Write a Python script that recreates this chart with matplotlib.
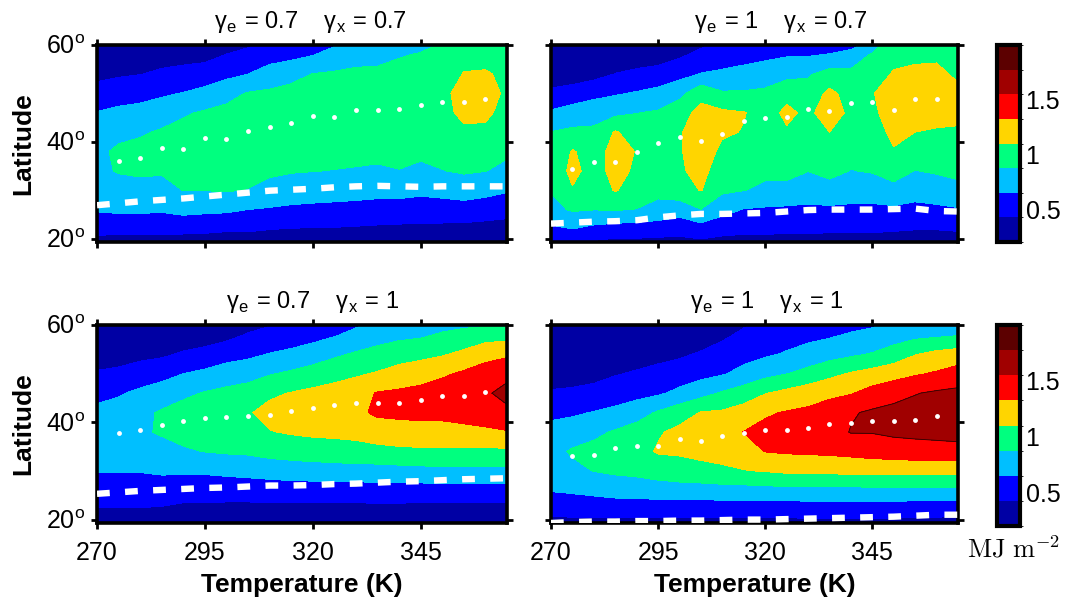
import numpy as np
import matplotlib
matplotlib.use("Agg")
import matplotlib.pyplot as plt
from matplotlib.colors import ListedColormap, BoundaryNorm

plt.rcParams['font.family'] = ['Liberation Sans', 'DejaVu Sans']
plt.rcParams['mathtext.fontset'] = 'cm'

# ---------------- data ----------------
temperature = [270, 275, 280, 285, 290, 295, 300, 305, 310, 315,
               320, 325, 330, 335, 340, 345, 350, 355, 360, 365]
latitude = [18, 22, 26, 30, 34, 38, 42, 46, 50, 54, 58, 62]

levels = [0.2, 0.425, 0.65, 0.875, 1.1, 1.325, 1.55, 1.775, 2.0]
level_colors = ['#0000A4', '#0000FF', '#00BFFF', '#00FF7F',
                '#FFD500', '#FF0000', '#A00000', '#5C0000']
cbar_ticks = [0.5, 1, 1.5]
cbar_ticklabels = ['0.5', '1', '1.5']

# each inner list = one temperature column, values at the latitudes above (MJ m^-2)
field_e07_x07 = [
    [0.27, 0.50, 0.67, 0.74, 0.83, 0.83, 0.73, 0.66, 0.51, 0.37, 0.25, 0.22],
    [0.27, 0.49, 0.69, 0.79, 0.89, 0.91, 0.82, 0.70, 0.55, 0.40, 0.27, 0.22],
    [0.27, 0.49, 0.69, 0.80, 0.91, 0.94, 0.85, 0.72, 0.58, 0.42, 0.27, 0.22],
    [0.27, 0.48, 0.68, 0.79, 0.90, 0.97, 0.90, 0.77, 0.62, 0.46, 0.34, 0.22],
    [0.27, 0.48, 0.72, 0.88, 0.94, 1.00, 0.94, 0.85, 0.66, 0.49, 0.35, 0.22],
    [0.27, 0.47, 0.70, 0.88, 0.93, 0.99, 0.99, 0.90, 0.72, 0.52, 0.36, 0.22],
    [0.27, 0.45, 0.69, 0.89, 0.94, 1.00, 1.01, 0.93, 0.81, 0.59, 0.43, 0.27],
    [0.28, 0.45, 0.65, 0.87, 0.92, 0.98, 1.03, 0.96, 0.89, 0.65, 0.49, 0.31],
    [0.29, 0.43, 0.63, 0.81, 0.91, 0.97, 1.02, 0.98, 0.91, 0.75, 0.55, 0.38],
    [0.29, 0.42, 0.61, 0.77, 0.89, 0.95, 1.02, 1.00, 0.93, 0.82, 0.58, 0.43],
    [0.30, 0.41, 0.60, 0.75, 0.88, 0.94, 0.99, 1.03, 0.96, 0.88, 0.64, 0.47],
    [0.30, 0.41, 0.59, 0.74, 0.87, 0.94, 1.00, 1.04, 0.97, 0.90, 0.73, 0.54],
    [0.31, 0.40, 0.58, 0.73, 0.86, 0.93, 0.99, 1.05, 0.99, 0.92, 0.79, 0.61],
    [0.31, 0.39, 0.56, 0.72, 0.85, 0.92, 0.99, 1.05, 0.99, 0.92, 0.81, 0.63],
    [0.31, 0.38, 0.56, 0.72, 0.87, 0.93, 0.99, 1.05, 1.01, 0.94, 0.86, 0.70],
    [0.31, 0.38, 0.54, 0.70, 0.83, 0.92, 0.99, 1.05, 1.03, 0.96, 0.89, 0.76],
    [0.31, 0.37, 0.55, 0.72, 0.87, 0.93, 0.98, 1.05, 1.06, 0.98, 0.92, 0.85],
    [0.31, 0.36, 0.56, 0.75, 0.90, 0.98, 1.07, 1.14, 1.16, 1.11, 1.03, 0.94],
    [0.31, 0.35, 0.53, 0.72, 0.88, 0.97, 1.06, 1.14, 1.17, 1.12, 1.03, 0.94],
    [0.30, 0.34, 0.50, 0.67, 0.82, 0.91, 0.98, 1.03, 1.07, 1.06, 1.01, 0.94],
]

field_e1_x07 = [
    [0.34, 0.61, 0.81, 0.89, 0.91, 0.89, 0.88, 0.68, 0.48, 0.28, 0.25, 0.22],
    [0.32, 0.65, 0.90, 1.08, 1.17, 1.12, 0.92, 0.74, 0.53, 0.30, 0.25, 0.22],
    [0.31, 0.59, 0.88, 0.93, 1.00, 1.00, 0.92, 0.78, 0.59, 0.35, 0.27, 0.22],
    [0.29, 0.55, 0.89, 1.12, 1.18, 1.18, 1.12, 0.82, 0.63, 0.43, 0.30, 0.22],
    [0.30, 0.54, 0.87, 0.97, 1.06, 1.09, 1.00, 0.87, 0.67, 0.47, 0.31, 0.23],
    [0.30, 0.52, 0.82, 0.92, 0.97, 1.01, 0.98, 0.90, 0.72, 0.51, 0.32, 0.25],
    [0.30, 0.50, 0.75, 1.01, 1.07, 1.08, 1.08, 1.02, 0.81, 0.58, 0.39, 0.27],
    [0.31, 0.55, 0.87, 1.11, 1.17, 1.22, 1.22, 1.16, 1.04, 0.66, 0.48, 0.31],
    [0.31, 0.49, 0.73, 0.91, 0.98, 1.05, 1.13, 1.14, 0.90, 0.69, 0.53, 0.40],
    [0.31, 0.47, 0.64, 0.88, 0.94, 1.01, 1.09, 1.11, 0.90, 0.72, 0.57, 0.45],
    [0.31, 0.47, 0.62, 0.84, 0.91, 0.96, 1.01, 1.02, 0.92, 0.76, 0.60, 0.47],
    [0.31, 0.46, 0.61, 0.82, 0.93, 1.01, 1.08, 1.14, 1.05, 0.80, 0.63, 0.49],
    [0.32, 0.46, 0.61, 0.75, 0.88, 0.94, 1.00, 1.06, 0.97, 0.85, 0.63, 0.47],
    [0.32, 0.45, 0.61, 0.80, 0.93, 1.01, 1.10, 1.19, 1.15, 0.96, 0.66, 0.45],
    [0.32, 0.45, 0.61, 0.74, 0.87, 0.92, 0.98, 1.06, 1.02, 0.93, 0.73, 0.43],
    [0.32, 0.45, 0.60, 0.76, 0.89, 0.94, 0.99, 1.05, 1.09, 1.00, 0.90, 0.56],
    [0.32, 0.44, 0.61, 0.81, 0.96, 1.08, 1.16, 1.22, 1.19, 1.12, 1.03, 0.94],
    [0.32, 0.43, 0.59, 0.74, 0.87, 0.99, 1.10, 1.18, 1.21, 1.14, 1.06, 0.97],
    [0.32, 0.43, 0.61, 0.76, 0.90, 0.99, 1.08, 1.17, 1.21, 1.14, 1.07, 0.97],
    [0.32, 0.44, 0.63, 0.82, 0.92, 1.00, 1.08, 1.14, 1.14, 1.07, 1.01, 0.94],
]

field_e07_x1 = [
    [0.29, 0.41, 0.54, 0.66, 0.72, 0.79, 0.70, 0.59, 0.45, 0.30, 0.25, 0.22],
    [0.29, 0.41, 0.54, 0.66, 0.73, 0.80, 0.73, 0.63, 0.48, 0.32, 0.26, 0.22],
    [0.29, 0.41, 0.54, 0.66, 0.74, 0.84, 0.82, 0.69, 0.54, 0.36, 0.27, 0.22],
    [0.29, 0.40, 0.54, 0.68, 0.79, 0.90, 0.90, 0.75, 0.58, 0.39, 0.28, 0.22],
    [0.29, 0.37, 0.52, 0.68, 0.85, 0.94, 0.96, 0.83, 0.65, 0.45, 0.30, 0.23],
    [0.29, 0.37, 0.52, 0.68, 0.88, 0.97, 1.01, 0.89, 0.70, 0.49, 0.32, 0.25],
    [0.29, 0.36, 0.52, 0.70, 0.90, 1.00, 1.06, 0.93, 0.76, 0.56, 0.36, 0.26],
    [0.29, 0.36, 0.52, 0.72, 0.91, 1.01, 1.08, 0.96, 0.80, 0.60, 0.44, 0.29],
    [0.29, 0.36, 0.53, 0.74, 0.95, 1.09, 1.17, 1.06, 0.86, 0.66, 0.49, 0.34],
    [0.29, 0.36, 0.54, 0.76, 0.97, 1.12, 1.22, 1.11, 0.91, 0.70, 0.53, 0.39],
    [0.29, 0.36, 0.54, 0.77, 0.99, 1.14, 1.23, 1.15, 0.97, 0.76, 0.57, 0.43],
    [0.29, 0.36, 0.54, 0.78, 1.00, 1.15, 1.25, 1.19, 1.02, 0.84, 0.63, 0.47],
    [0.29, 0.36, 0.54, 0.79, 1.02, 1.16, 1.28, 1.24, 1.07, 0.90, 0.71, 0.54],
    [0.29, 0.36, 0.55, 0.79, 1.03, 1.22, 1.36, 1.34, 1.12, 0.95, 0.78, 0.61],
    [0.29, 0.36, 0.55, 0.80, 1.05, 1.24, 1.37, 1.36, 1.19, 1.00, 0.82, 0.63],
    [0.29, 0.35, 0.55, 0.81, 1.06, 1.25, 1.38, 1.39, 1.23, 1.04, 0.84, 0.65],
    [0.29, 0.35, 0.56, 0.82, 1.06, 1.25, 1.38, 1.44, 1.29, 1.08, 0.90, 0.72],
    [0.29, 0.35, 0.56, 0.82, 1.05, 1.27, 1.40, 1.47, 1.36, 1.15, 0.94, 0.74],
    [0.29, 0.35, 0.56, 0.82, 1.05, 1.29, 1.42, 1.52, 1.41, 1.26, 0.99, 0.72],
    [0.29, 0.34, 0.56, 0.82, 1.06, 1.31, 1.50, 1.62, 1.49, 1.29, 1.01, 0.70],
]

field_e1_x1 = [
    [0.30, 0.49, 0.66, 0.76, 0.81, 0.72, 0.60, 0.45, 0.31, 0.26, 0.23, 0.22],
    [0.30, 0.50, 0.68, 0.82, 0.90, 0.76, 0.62, 0.47, 0.32, 0.26, 0.23, 0.22],
    [0.30, 0.50, 0.71, 0.88, 0.95, 0.82, 0.66, 0.50, 0.35, 0.27, 0.23, 0.22],
    [0.30, 0.51, 0.74, 0.91, 0.99, 0.90, 0.70, 0.55, 0.41, 0.30, 0.25, 0.22],
    [0.30, 0.51, 0.75, 0.93, 1.03, 0.97, 0.78, 0.58, 0.45, 0.32, 0.26, 0.22],
    [0.30, 0.51, 0.77, 0.97, 1.12, 1.08, 0.90, 0.62, 0.49, 0.36, 0.27, 0.22],
    [0.30, 0.51, 0.78, 1.00, 1.13, 1.15, 1.01, 0.70, 0.54, 0.39, 0.28, 0.23],
    [0.30, 0.51, 0.78, 1.03, 1.16, 1.18, 1.11, 0.80, 0.58, 0.45, 0.30, 0.23],
    [0.30, 0.51, 0.79, 1.06, 1.18, 1.24, 1.13, 0.90, 0.63, 0.52, 0.38, 0.25],
    [0.30, 0.51, 0.79, 1.09, 1.24, 1.33, 1.20, 0.98, 0.72, 0.57, 0.47, 0.34],
    [0.30, 0.51, 0.80, 1.11, 1.33, 1.38, 1.30, 1.09, 0.81, 0.62, 0.51, 0.40],
    [0.30, 0.51, 0.81, 1.14, 1.35, 1.42, 1.34, 1.16, 0.87, 0.67, 0.56, 0.44],
    [0.30, 0.52, 0.81, 1.14, 1.36, 1.43, 1.37, 1.22, 0.95, 0.73, 0.59, 0.47],
    [0.30, 0.52, 0.81, 1.15, 1.37, 1.46, 1.42, 1.28, 1.04, 0.79, 0.62, 0.49],
    [0.30, 0.52, 0.81, 1.16, 1.39, 1.56, 1.53, 1.31, 1.12, 0.84, 0.67, 0.52],
    [0.30, 0.52, 0.82, 1.16, 1.42, 1.56, 1.58, 1.41, 1.18, 0.89, 0.71, 0.54],
    [0.30, 0.52, 0.82, 1.16, 1.44, 1.59, 1.61, 1.48, 1.24, 0.97, 0.77, 0.61],
    [0.30, 0.50, 0.82, 1.16, 1.46, 1.60, 1.63, 1.54, 1.30, 1.09, 0.81, 0.65],
    [0.30, 0.50, 0.82, 1.16, 1.47, 1.61, 1.67, 1.58, 1.35, 1.16, 0.83, 0.70],
    [0.30, 0.49, 0.82, 1.16, 1.48, 1.62, 1.70, 1.60, 1.42, 1.20, 0.86, 0.70],
]

# latitude of the maximum (white dots)
dot_temperature = [275, 280, 285, 290, 295, 300, 305, 310, 315,
                   320, 325, 330, 335, 340, 345, 350, 355, 360]
dots_e07_x07 = [36.1, 36.6, 38.7, 38.6, 40.8, 40.6, 42.3, 43.0, 43.8,
                45.4, 45.2, 46.5, 46.6, 46.7, 47.6, 48.2, 48.3, 48.9]
dots_e1_x07 = [34.4, 35.8, 35.8, 37.9, 39.7, 40.9, 40.1, 41.6, 44.2,
               45.0, 45.2, 46.8, 46.3, 48.0, 48.3, 46.5, 48.8, 48.8]
dots_e07_x1 = [37.9, 38.4, 39.5, 40.2, 40.8, 41.0, 41.3, 41.6, 42.3,
               43.0, 43.5, 44.0, 43.9, 44.0, 44.5, 45.4, 45.5, 46.2]
dots_e1_x1 = [33.1, 33.3, 34.8, 35.1, 35.2, 36.6, 36.2, 37.1, 37.8,
              38.4, 38.4, 38.9, 39.6, 39.9, 40.3, 40.3, 40.5, 41.2]

# white dashed line (latitude vs temperature)
dash_e07_x07 = [26.9, 27.3, 27.7, 28.0, 28.3, 28.7, 29.1, 29.5, 29.9, 30.1,
                30.3, 30.6, 30.8, 30.9, 30.8, 30.7, 30.8, 30.8, 30.8, 30.8]
dash_e1_x07 = [23.1, 23.3, 23.5, 23.6, 23.8, 24.4, 24.8, 25.1, 25.1, 25.2,
               25.3, 25.6, 25.9, 26.0, 26.0, 26.0, 26.1, 26.2, 25.7, 25.6]
dash_e07_x1 = [25.3, 25.6, 25.9, 26.1, 26.3, 26.5, 26.6, 26.8, 27.0, 27.0,
               27.1, 27.3, 27.4, 27.6, 27.8, 27.9, 28.1, 28.3, 28.4, 28.5]
dash_e1_x1 = [19.3, 19.5, 19.6, 19.6, 19.7, 19.7, 19.8, 19.8, 19.9, 20.0,
              20.0, 20.1, 20.2, 20.3, 20.4, 20.5, 20.6, 20.8, 21.0, 21.0]

titles = ['γ$_{\\mathregular{e}}$ = 0.7    γ$_{\\mathregular{x}}$ = 0.7',
          'γ$_{\\mathregular{e}}$ = 1    γ$_{\\mathregular{x}}$ = 0.7',
          'γ$_{\\mathregular{e}}$ = 0.7    γ$_{\\mathregular{x}}$ = 1',
          'γ$_{\\mathregular{e}}$ = 1    γ$_{\\mathregular{x}}$ = 1']
x_ticks = [270, 295, 320, 345]
y_ticks = [20, 40, 60]
y_ticklabels = ['20$^{\\mathregular{o}}$', '40$^{\\mathregular{o}}$', '60$^{\\mathregular{o}}$']

# ---------------- figure ----------------
W, H = 1069, 601
fig = plt.figure(figsize=(W / 100, H / 100), dpi=100)

def rect(l, t, r, b):
    return [l / W, 1 - b / H, (r - l) / W, (b - t) / H]

positions = [rect(97, 45, 507, 242), rect(551, 45, 958, 242),
             rect(97, 325, 507, 523), rect(551, 325, 958, 523)]
title_x = [0.52, 0.565, 0.525, 0.53]
fields = [field_e07_x07, field_e1_x07, field_e07_x1, field_e1_x1]
dots = [dots_e07_x07, dots_e1_x07, dots_e07_x1, dots_e1_x1]
dashes = [dash_e07_x07, dash_e1_x07, dash_e07_x1, dash_e1_x1]

cmap = ListedColormap(level_colors)
norm = BoundaryNorm(levels, cmap.N)

contour_sets = []
for i in range(4):
    ax = fig.add_axes(positions[i])
    Z = np.array(fields[i]).T
    cs = ax.contourf(temperature, latitude, Z, levels=levels, cmap=cmap, norm=norm)
    contour_sets.append(cs)
    ax.contour(temperature, latitude, Z, levels=[levels[6]], colors='#300000',
               linewidths=0.6)
    ax.plot(temperature, dashes[i], color='white', lw=4.6, dashes=(2.0, 2.4),
            dash_capstyle='butt', zorder=3)
    ax.plot(dot_temperature, dots[i], 'o', color='white', ms=3.5, mec='none', zorder=4)
    ax.set_xlim(270, 365)
    ax.set_ylim(19.3, 60)
    ax.set_xticks(x_ticks)
    ax.set_yticks(y_ticks)
    ax.tick_params(direction='out', length=4, width=2, top=True, right=True,
                   labelsize=18)
    ax.tick_params(axis='x', pad=9)
    ax.tick_params(axis='y', pad=4)
    for s in ax.spines.values():
        s.set_linewidth(2.6)
    col = i % 2
    row = i // 2
    if col == 0:
        ax.set_yticklabels(y_ticklabels)
        ax.set_ylabel('Latitude', fontsize=19, fontweight='bold')
        ax.yaxis.set_label_coords(-0.15, 0.5)
    else:
        ax.set_yticklabels([])
    if row == 1:
        ax.set_xticklabels([str(t) for t in x_ticks])
        ax.set_xlabel('Temperature (K)', fontsize=19, fontweight='bold')
        ax.xaxis.set_label_coords(0.5, -0.255)
    else:
        ax.set_xticklabels([])
    ax.text(title_x[i], 1.085, titles[i], transform=ax.transAxes, ha='center',
            va='baseline', fontsize=17)

for k, cpos in enumerate([rect(997, 45, 1020, 242), rect(997, 325, 1020, 526)]):
    cax = fig.add_axes(cpos)
    cb = fig.colorbar(contour_sets[2 * k + 1], cax=cax, ticks=cbar_ticks)
    cb.ax.set_yticklabels(cbar_ticklabels)
    cb.ax.tick_params(length=0, labelsize=18, pad=4)
    cb.outline.set_linewidth(3)

fig.text(1014 / W, 1 - 549 / H, r'$\mathrm{MJ\ m^{-2}}$', ha='center', va='center',
         fontsize=19)

fig.savefig('out.png', dpi=100)
